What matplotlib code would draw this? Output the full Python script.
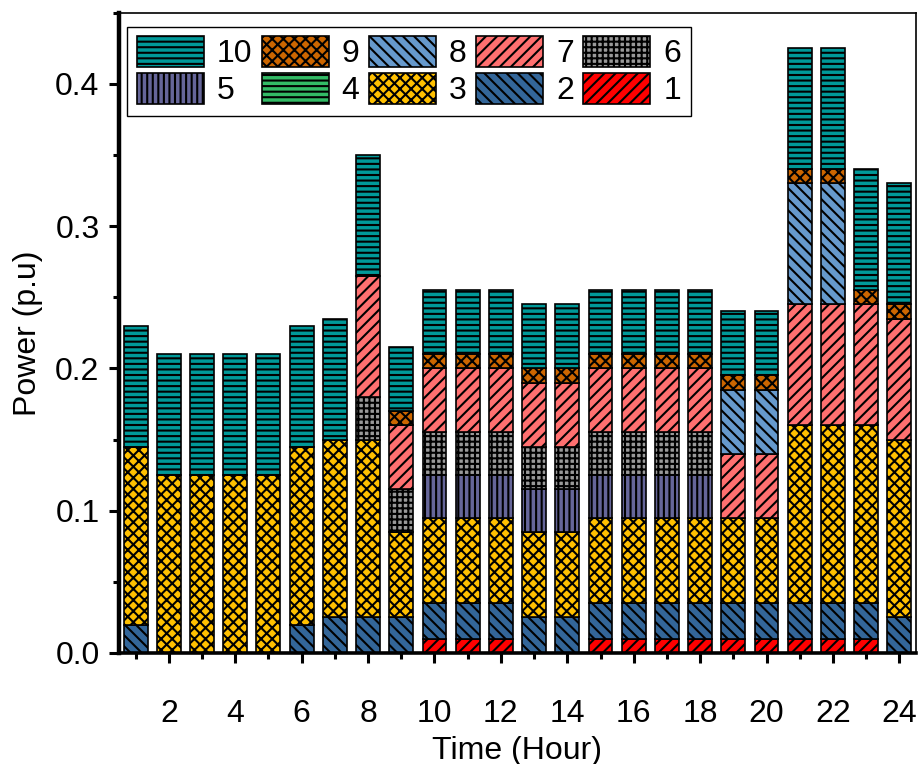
import numpy as np
import matplotlib
matplotlib.use("Agg")
from matplotlib import pyplot as plt
from matplotlib.ticker import MultipleLocator

plt.rcParams['font.family'] = ['Liberation Sans', 'DejaVu Sans']
plt.rcParams['hatch.linewidth'] = 1.5

hours = np.arange(1, 25)

# load of each unit (p.u)
s1 = [0, 0, 0, 0, 0, 0, 0, 0, 0, 0.01, 0.01, 0.01, 0, 0, 0.01, 0.01, 0.01, 0.01, 0.01, 0.01, 0.01, 0.01, 0.01, 0]
s2 = [0.02, 0, 0, 0, 0, 0.02, 0.025, 0.025, 0.025, 0.025, 0.025, 0.025, 0.025, 0.025, 0.025, 0.025, 0.025, 0.025, 0.025, 0.025, 0.025, 0.025, 0.025, 0.025]
s3 = [0.125, 0.125, 0.125, 0.125, 0.125, 0.125, 0.125, 0.125, 0.06, 0.06, 0.06, 0.06, 0.06, 0.06, 0.06, 0.06, 0.06, 0.06, 0.06, 0.06, 0.125, 0.125, 0.125, 0.125]
s4 = [0] * 24
s5 = [0, 0, 0, 0, 0, 0, 0, 0, 0, 0.03, 0.03, 0.03, 0.03, 0.03, 0.03, 0.03, 0.03, 0.03, 0, 0, 0, 0, 0, 0]
s6 = [0, 0, 0, 0, 0, 0, 0, 0.03, 0.03, 0.03, 0.03, 0.03, 0.03, 0.03, 0.03, 0.03, 0.03, 0.03, 0, 0, 0, 0, 0, 0]
s7 = [0, 0, 0, 0, 0, 0, 0, 0.085, 0.045, 0.045, 0.045, 0.045, 0.045, 0.045, 0.045, 0.045, 0.045, 0.045, 0.045, 0.045, 0.085, 0.085, 0.085, 0.085]
s8 = [0, 0, 0, 0, 0, 0, 0, 0, 0, 0, 0, 0, 0, 0, 0, 0, 0, 0, 0.045, 0.045, 0.085, 0.085, 0, 0]
s9 = [0, 0, 0, 0, 0, 0, 0, 0, 0.01, 0.01, 0.01, 0.01, 0.01, 0.01, 0.01, 0.01, 0.01, 0.01, 0.01, 0.01, 0.01, 0.01, 0.01, 0.01]
s10 = [0.085, 0.085, 0.085, 0.085, 0.085, 0.085, 0.085, 0.085, 0.045, 0.045, 0.045, 0.045, 0.045, 0.045, 0.045, 0.045, 0.045, 0.045, 0.045, 0.045, 0.085, 0.085, 0.085, 0.085]

series = [s1, s2, s3, s4, s5, s6, s7, s8, s9, s10]
names = ['1', '2', '3', '4', '5', '6', '7', '8', '9', '10']
colors = ['#FF0000', '#336699', '#FFC000', '#33BB66', '#666699',
          '#999999', '#FF7070', '#6699CC', '#CC6600', '#009999']
hatches = ['///', '\\\\\\', 'xxx', '---', '|||', '+++', '///', '\\\\\\', 'xxx', '---']

fig = plt.figure(figsize=(9.19, 7.64), dpi=100)
ax = fig.add_axes([0.1295, 0.1453, 0.8672, 0.8383])

bars = {}
bottom = np.zeros(24)
for vals, nm, c, h in zip(series, names, colors, hatches):
    vals = np.array(vals)
    bars[nm] = ax.bar(hours, vals, width=0.72, bottom=bottom, color=c,
                      edgecolor='black', linewidth=1.2, hatch=h, label=nm)
    bottom += vals

ax.set_xlim(0.5, 24.5)
ax.set_ylim(0, 0.45)
ax.xaxis.set_minor_locator(MultipleLocator(1))
ax.yaxis.set_minor_locator(MultipleLocator(0.05))
ax.set_xticks(np.arange(2, 25, 2))
ax.set_yticks([0.0, 0.1, 0.2, 0.3, 0.4])
ax.set_yticklabels(['0.0', '0.1', '0.2', '0.3', '0.4'])

ax.tick_params(axis='both', which='major', direction='out', length=7, width=2.2,
               labelsize=23, pad=7)
ax.tick_params(axis='both', which='minor', direction='out', length=4, width=2.2)
ax.tick_params(axis='x', which='major', pad=26)

ax.spines['left'].set_linewidth(3.2)
ax.spines['bottom'].set_linewidth(2.6)
ax.spines['top'].set_linewidth(1.2)
ax.spines['right'].set_linewidth(1.2)

ax.set_xlabel('Time (Hour)', fontsize=23, labelpad=5)
ax.set_ylabel('Power (p.u)', fontsize=23, labelpad=9)

# legend in two rows, 10..6 on top and 5..1 below
order = ['10', '5', '9', '4', '8', '3', '7', '2', '6', '1']
leg = ax.legend([bars[k] for k in order], order, ncol=5, loc='upper left',
                bbox_to_anchor=(0.01, 0.978), fontsize=23, frameon=True,
                fancybox=False, edgecolor='black', framealpha=1,
                handlelength=2.1, handleheight=1.1, handletextpad=0.4,
                columnspacing=0.3, labelspacing=0.12, borderpad=0.3,
                borderaxespad=0)
leg.get_frame().set_linewidth(1.0)

fig.savefig('out.png', dpi=100)
